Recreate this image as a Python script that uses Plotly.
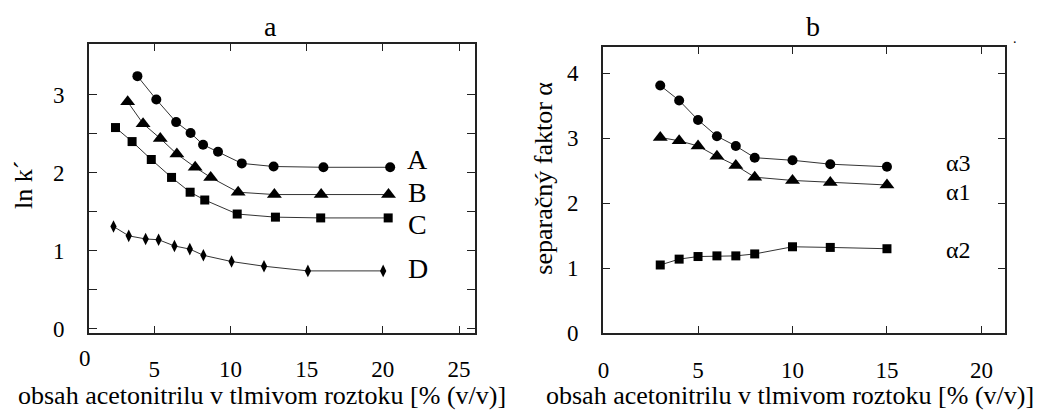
import plotly.graph_objects as go

# ---------------- data ----------------
# panel a : ln k' vs acetonitrile content
a_A_x = [3.89, 5.13, 6.43, 7.38, 8.20, 9.18, 10.74, 12.83, 16.10, 20.48]
a_A_y = [3.24, 2.94, 2.65, 2.51, 2.36, 2.27, 2.12, 2.08, 2.07, 2.07]
a_B_x = [3.25, 4.26, 5.39, 6.48, 7.68, 8.70, 10.50, 12.88, 15.95, 20.37]
a_B_y = [2.91, 2.63, 2.44, 2.24, 2.07, 1.94, 1.75, 1.72, 1.72, 1.72]
a_C_x = [2.45, 3.54, 4.80, 6.13, 7.35, 8.31, 10.44, 12.95, 15.92, 20.35]
a_C_y = [2.58, 2.40, 2.17, 1.94, 1.75, 1.65, 1.47, 1.43, 1.42, 1.42]
a_D_x = [2.32, 3.32, 4.43, 5.28, 6.32, 7.33, 8.22, 10.07, 12.20, 15.08, 20.02]
a_D_y = [1.31, 1.19, 1.15, 1.14, 1.06, 1.02, 0.94, 0.86, 0.80, 0.74, 0.74]
a_labels = ["A", "B", "C", "D"]
a_label_y = [2.17, 1.75, 1.33, 0.77]

# panel b : separation factor alpha
b_x = [3, 4, 5, 6, 7, 8, 10, 12, 15]
alpha3 = [3.81, 3.58, 3.28, 3.03, 2.88, 2.70, 2.66, 2.60, 2.56]
alpha1 = [3.01, 2.96, 2.88, 2.72, 2.58, 2.40, 2.35, 2.32, 2.28]
alpha2 = [1.05, 1.14, 1.18, 1.19, 1.19, 1.22, 1.33, 1.32, 1.30]
b_labels = ["α3", "α1", "α2"]
b_label_y = [2.62, 2.17, 1.28]

# tick labels
a_xticks = [5, 10, 15, 20, 25]
a_xtext = ["5", "10", "15", "20", "25"]
a_yticks = [0, 0.5, 1, 1.5, 2, 2.5, 3]
a_ytext = ["0", "", "1", "", "2", "", "3"]
b_xticks = [0, 5, 10, 15, 20]
b_xtext = ["0", "5", "10", "15", "20"]
b_yticks = [0, 1, 2, 3, 4]
b_ytext = ["0", "1", "2", "3", "4"]

xtitle = "obsah acetonitrilu v tlmivom roztoku [% (v/v)]"

FONT = "Liberation Serif, DejaVu Serif, serif"
TXT = "#000000"
LINE = "#333333"

fig = go.Figure()


def add(xs, ys, sym, size, xa, ya):
    fig.add_trace(go.Scatter(
        x=xs, y=ys, mode="lines+markers",
        line=dict(color=LINE, width=1),
        marker=dict(symbol=sym, size=size, color="black", line=dict(width=0)),
        xaxis=xa, yaxis=ya, showlegend=False, cliponaxis=False,
        hoverinfo="skip"))


add(a_A_x, a_A_y, "circle", 10, "x", "y")
add(a_B_x, a_B_y, "triangle-up", 13, "x", "y")
add(a_C_x, a_C_y, "square", 9, "x", "y")
add(a_D_x, a_D_y, "diamond-tall", 9, "x", "y")

add(b_x, alpha3, "circle", 10, "x2", "y2")
add(b_x, alpha1, "triangle-up", 13, "x2", "y2")
add(b_x, alpha2, "square", 9, "x2", "y2")


def axis(domain, rng, tv, tt, standoff, anchor, ticklen):
    return dict(
        domain=domain, range=rng, anchor=anchor,
        showline=True, linecolor="#222222", linewidth=1.6, mirror="ticks",
        ticks="inside", ticklen=ticklen, tickwidth=1.2, tickcolor="#222222",
        tickvals=tv, ticktext=tt, ticklabelstandoff=standoff,
        tickfont=dict(family=FONT, size=23, color=TXT),
        showgrid=False, zeroline=False, fixedrange=True)


W, H = 1040, 417
fig.update_layout(
    width=W, height=H,
    margin=dict(l=0, r=0, t=0, b=0),
    paper_bgcolor="white", plot_bgcolor="white",
    font=dict(family=FONT),
    xaxis=axis([84.3 / W, 472.3 / W], [0.705, 26.05], a_xticks, a_xtext, 15, "y", 7),
    yaxis=axis([(H - 343.3) / H, (H - 45.7) / H], [-0.052, 3.649], a_yticks, a_ytext, 18, "x", 8),
    xaxis2=axis([600.7 / W, 1004.5 / W], [-0.04, 21.23], b_xticks, b_xtext, 15, "y2", 7),
    yaxis2=axis([(H - 344) / H, (H - 48.3) / H], [0, 4.405], b_yticks, b_ytext, 18, "x2", 7),
)

ann = []
fs = dict(family=FONT, color=TXT)


def note(text, x, y, size, xref="paper", yref="paper", angle=0):
    if xref == "paper":
        x = x / W
    if yref == "paper":
        y = (H - y) / H
    ann.append(dict(text=text, x=x, y=y, xref=xref, yref=yref,
                    xanchor="center", yanchor="middle", textangle=angle,
                    showarrow=False, font=dict(size=size, **fs)))


# panel titles
note("a", 267, 27, 28)
note("b", 811.5, 27, 28)
# the "0" label of panel a x axis (lies left of plotted range)
note("0", 80.7, 370, 23)
# x axis titles
note(xtitle, 258, 408, 26)
note(xtitle, 789, 408, 26)
# y axis titles
note("ln k´", 18, 191, 26, angle=-90)
note("separačný faktor α", 541, 184, 26, angle=-90)
# series labels
for t, yv in zip(a_labels, a_label_y):
    note(t, 22.3, yv, 28, xref="x", yref="y")
for t, yv in zip(b_labels, b_label_y):
    note(t, 18.78, yv, 24, xref="x2", yref="y2")
# small stray dot in the corner
note(".", 1015, 40, 14)
fig.update_layout(annotations=ann)

fig.write_html("out.html")
